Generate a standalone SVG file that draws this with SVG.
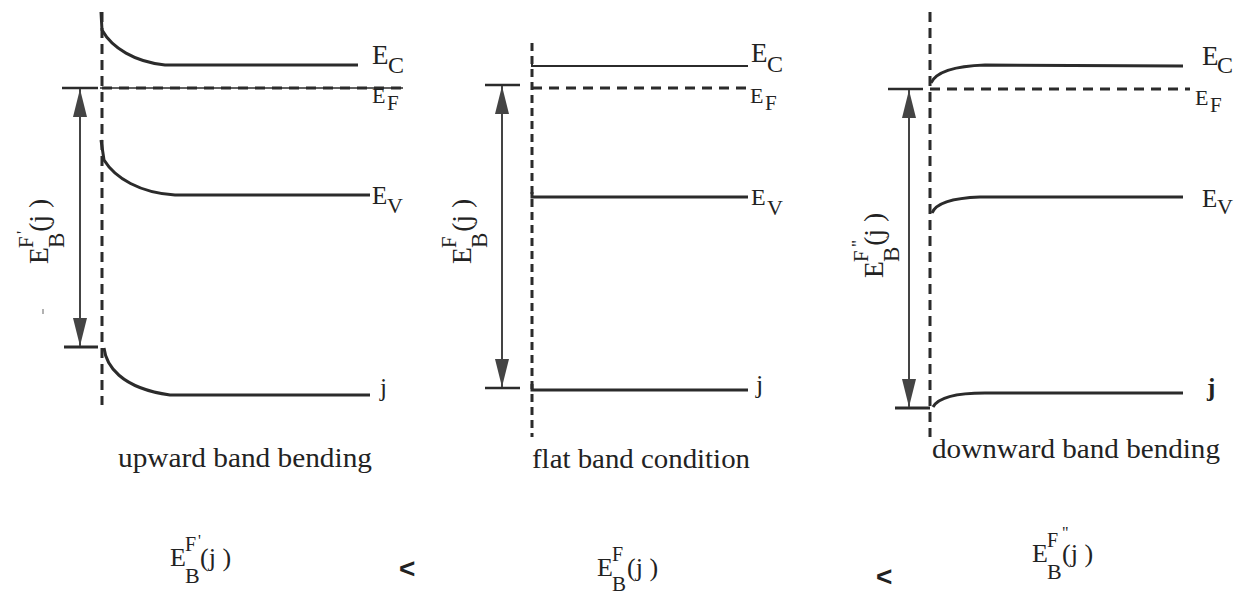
<svg xmlns="http://www.w3.org/2000/svg" width="1243" height="596" viewBox="0 0 1243 596" font-family="Liberation Serif, serif">
<defs>
<marker id="ah" viewBox="0 0 28 14" refX="28" refY="7" markerWidth="28" markerHeight="14" markerUnits="userSpaceOnUse" orient="auto-start-reverse"><path d="M0,0 L28,7 L0,14 z" fill="#444"/></marker>
</defs>
<rect width="1243" height="596" fill="#fff"/>

<g id="panel-upward" fill="#222" font-family="Liberation Serif">
  <g fill="none" stroke="#2b2b2b" stroke-width="3">
    <path d="M102,12 L102,405" stroke-dasharray="10 6"/>
    <path d="M101,12 L102,30 C112,48 135,62 165,65 L358,65"/>
    <path d="M100,88 L403,88" stroke-width="1.5"/>
    <path d="M102,88 L403,88" stroke-dasharray="10 7"/>
    <path d="M101,140 L104,160 C115,178 140,193 175,195 L370,195"/>
    <path d="M104,348 C106,365 120,388 170,395 L370,395"/>
    <line x1="62" y1="88" x2="98" y2="88" stroke-width="2.5"/>
    <line x1="64" y1="347" x2="98" y2="347"/>
    <line x1="43" y1="309" x2="43" y2="314" stroke="#999" stroke-width="1.5"/>
  </g>
  <text x="372" y="64" font-size="27" font-family="Liberation Serif">E</text>
  <text x="388" y="73" font-size="24" font-family="Liberation Serif">C</text>
  <text x="372" y="103" font-size="22" font-family="Liberation Serif">E</text>
  <text x="387" y="110" font-size="21" font-family="Liberation Serif">F</text>
  <text x="372" y="204" font-size="25" font-family="Liberation Serif">E</text>
  <text x="387" y="213" font-size="22" font-family="Liberation Serif">V</text>
  <text x="380" y="396" font-size="25" font-family="Liberation Serif">j</text>
  <g transform="translate(48,264) rotate(-90) scale(1.15)">
    <text x="0" y="0" font-size="24" font-family="Liberation Serif">E</text>
    <text x="14" y="-13" font-size="18" font-family="Liberation Serif">F</text>
    <text x="26" y="-17" font-size="15" font-family="Liberation Serif">'</text>
    <text x="14" y="14" font-size="20" font-family="Liberation Serif">B</text>
    <text x="28" y="0" font-size="24" font-family="Liberation Serif">(j )</text>
  </g>
  <text x="118" y="467" font-size="27" textLength="254" lengthAdjust="spacingAndGlyphs" font-family="Liberation Serif">upward band bending</text>
</g>

<g id="panel-flat" fill="#222" font-family="Liberation Serif">
  <g fill="none" stroke="#2b2b2b" stroke-width="3">
    <path d="M532,43 L532,437" stroke-dasharray="8 5"/>
    <path d="M532,60 L532,66 L748,66" stroke-width="2"/>
    <path d="M532,88 L748,88" stroke-dasharray="10 7"/>
    <path d="M532,192 L532,197 L748,197"/>
    <path d="M532,384 L532,390 L748,390"/>
    <line x1="485" y1="85" x2="520" y2="85" stroke-width="2.5"/>
    <line x1="485" y1="388" x2="520" y2="388" stroke-width="2.5"/>
  </g>
  <text x="751" y="62" font-size="27" font-family="Liberation Serif">E</text>
  <text x="767" y="72" font-size="24" font-family="Liberation Serif">C</text>
  <text x="750" y="103" font-size="22" font-family="Liberation Serif">E</text>
  <text x="765" y="110" font-size="21" font-family="Liberation Serif">F</text>
  <text x="751" y="205" font-size="24" font-family="Liberation Serif">E</text>
  <text x="767" y="215" font-size="22" font-family="Liberation Serif">V</text>
  <text x="756" y="393" font-size="26" font-family="Liberation Serif">j</text>
  <g transform="translate(471,264) rotate(-90) scale(1.15)">
    <text x="0" y="0" font-size="24" font-family="Liberation Serif">E</text>
    <text x="14" y="-13" font-size="18" font-family="Liberation Serif">F</text>
    <text x="14" y="14" font-size="20" font-family="Liberation Serif">B</text>
    <text x="28" y="0" font-size="24" font-family="Liberation Serif">(j )</text>
  </g>
  <text x="532" y="468" font-size="27" textLength="218" lengthAdjust="spacingAndGlyphs" font-family="Liberation Serif">flat band condition</text>
</g>

<g id="panel-downward" fill="#222" font-family="Liberation Serif">
  <g fill="none" stroke="#2b2b2b" stroke-width="3">
    <path d="M930,12 L930,437" stroke-dasharray="10 6"/>
    <path d="M931,83 C936,72 955,66 985,65 L1183,66"/>
    <path d="M930,89 L1190,89" stroke-dasharray="10 7"/>
    <path d="M932,213 C936,203 952,198 980,197 L1183,197"/>
    <path d="M933,407 C938,398 955,393 985,393 L1183,393"/>
    <line x1="888" y1="89" x2="923" y2="89" stroke-width="2.5"/>
    <line x1="895" y1="408" x2="930" y2="408"/>
  </g>
  <text x="1202" y="65" font-size="27" font-family="Liberation Serif">E</text>
  <text x="1217" y="73" font-size="24" font-family="Liberation Serif">C</text>
  <text x="1195" y="105" font-size="22" font-family="Liberation Serif">E</text>
  <text x="1210" y="112" font-size="21" font-family="Liberation Serif">F</text>
  <text x="1202" y="207" font-size="25" font-family="Liberation Serif">E</text>
  <text x="1217" y="214" font-size="22" font-family="Liberation Serif">V</text>
  <text x="1207" y="396" font-size="25" font-weight="bold" font-family="Liberation Serif">j</text>
  <g transform="translate(883,278) rotate(-90) scale(1.15)">
    <text x="0" y="0" font-size="24" font-family="Liberation Serif">E</text>
    <text x="14" y="-13" font-size="18" font-family="Liberation Serif">F</text>
    <text x="27" y="-17" font-size="15" font-family="Liberation Serif">"</text>
    <text x="14" y="14" font-size="20" font-family="Liberation Serif">B</text>
    <text x="28" y="0" font-size="24" font-family="Liberation Serif">(j )</text>
  </g>
  <text x="932" y="458" font-size="27" textLength="288" lengthAdjust="spacingAndGlyphs" font-family="Liberation Serif">downward band bending</text>
</g>

<g id="connectors" fill="none" stroke="#444" stroke-width="2">
  <path d="M80,89 L80,346" marker-start="url(#ah)" marker-end="url(#ah)"/>
  <path d="M502,86 L502,387" marker-start="url(#ah)" marker-end="url(#ah)"/>
  <path d="M909,90 L909,407" marker-start="url(#ah)" marker-end="url(#ah)"/>
</g>

<g id="relation" fill="#222" font-family="Liberation Serif">
  <g id="eq-upward" transform="translate(170,566)">
    <text x="0" y="0" font-size="26" font-family="Liberation Serif">E</text>
    <text x="15" y="-15" font-size="20" font-family="Liberation Serif">F</text>
    <text x="28" y="-20" font-size="16" font-family="Liberation Serif">'</text>
    <text x="15" y="17" font-size="22" font-family="Liberation Serif">B</text>
    <text x="30" y="0" font-size="26" font-family="Liberation Serif">(j )</text>
  </g>
  <text x="399" y="578" font-size="28" font-weight="bold" font-family="Liberation Sans, sans-serif">&lt;</text>
  <g id="eq-flat" transform="translate(597,576)">
    <text x="0" y="0" font-size="26" font-family="Liberation Serif">E</text>
    <text x="15" y="-15" font-size="20" font-family="Liberation Serif">F</text>
    <text x="15" y="15" font-size="21" font-family="Liberation Serif">B</text>
    <text x="30" y="0" font-size="26" font-family="Liberation Serif">(j )</text>
  </g>
  <text x="876" y="586" font-size="28" font-weight="bold" font-family="Liberation Sans, sans-serif">&lt;</text>
  <g id="eq-downward" transform="translate(1032,562)">
    <text x="0" y="0" font-size="26" font-family="Liberation Serif">E</text>
    <text x="15" y="-15" font-size="20" font-family="Liberation Serif">F</text>
    <text x="30" y="-24" font-size="16" font-family="Liberation Serif">"</text>
    <text x="15" y="17" font-size="22" font-family="Liberation Serif">B</text>
    <text x="30" y="0" font-size="26" font-family="Liberation Serif">(j )</text>
  </g>
</g>
</svg>
